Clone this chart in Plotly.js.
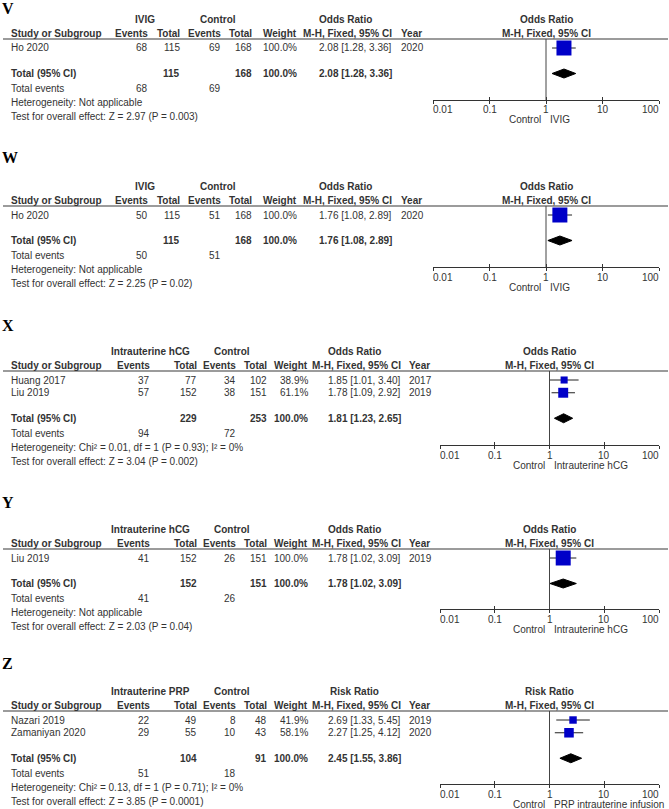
<!DOCTYPE html>
<html>
<head>
<meta charset="utf-8">
<script src="https://cdn.plot.ly/plotly-3.0.1.min.js"></script>
<style>html,body{margin:0;padding:0;background:#fff;}#chart{width:669px;height:809px;}</style>
</head>
<body>
<div id="chart"></div>
<script>
// ---------------- DATA ----------------
const panelLetters = ["V", "W", "X", "Y", "Z"];
const groupLabels = ["IVIG", "IVIG", "Intrauterine hCG", "Intrauterine hCG", "Intrauterine PRP"];
const measureLabels = ["Odds Ratio", "Odds Ratio", "Odds Ratio", "Odds Ratio", "Risk Ratio"];
const favoursLeft = ["Control", "Control", "Control", "Control", "Control"];
const favoursRight = ["IVIG", "IVIG", "Intrauterine hCG", "Intrauterine hCG", "PRP intrauterine infusion"];
const studyNames = [["Ho 2020"], ["Ho 2020"], ["Huang 2017", "Liu 2019"], ["Liu 2019"], ["Nazari 2019", "Zamaniyan 2020"]];
const expEvents = [[68], [50], [37, 57], [41], [22, 29]];
const expTotals = [[115], [115], [77, 152], [152], [49, 55]];
const ctlEvents = [[69], [51], [34, 38], [26], [8, 10]];
const ctlTotals = [[168], [168], [102, 151], [151], [48, 43]];
const weights = [[100.0], [100.0], [38.9, 61.1], [100.0], [41.9, 58.1]];
const estimates = [[2.08], [1.76], [1.85, 1.78], [1.78], [2.69, 2.27]];
const ciLower = [[1.28], [1.08], [1.01, 1.09], [1.02], [1.33, 1.25]];
const ciUpper = [[3.36], [2.89], [3.40, 2.92], [3.09], [5.45, 4.12]];
const studyYears = [[2020], [2020], [2017, 2019], [2019], [2019, 2020]];
const pooledEst = [2.08, 1.76, 1.81, 1.78, 2.45];
const pooledLo = [1.28, 1.08, 1.23, 1.02, 1.55];
const pooledHi = [3.36, 2.89, 2.65, 3.09, 3.86];
const totalExpN = [115, 115, 229, 152, 104];
const totalCtlN = [168, 168, 253, 151, 91];
const totalExpEvents = [68, 50, 94, 41, 51];
const totalCtlEvents = [69, 51, 72, 26, 18];
const heterogeneity = ["Not applicable", "Not applicable", "Chi\u00b2 = 0.01, df = 1 (P = 0.93); I\u00b2 = 0%", "Not applicable", "Chi\u00b2 = 0.13, df = 1 (P = 0.71); I\u00b2 = 0%"];
const overallZ = ["2.97", "2.25", "3.04", "2.03", "3.85"];
const overallP = ["0.003", "0.02", "0.002", "0.04", "0.0001"];
const axisTickVals = [0.01, 0.1, 1, 10, 100];
const axisTickText = ["0.01", "0.1", "1", "10", "100"];
const nullValue = 1;

// ---------------- LAYOUT GEOMETRY (pixels) ----------------
const W = 669, H = 809;
const colsA = {study: 11, expEv: 148, expTot: 180, ctlEv: 221, ctlTot: 252, weight: 297, est: 392, year: 401, grpExp: 145, grpCtl: 218, measure: 345};
const colsB = {study: 11, expEv: 150, expTot: 197, ctlEv: 236, ctlTot: 267, weight: 308, est: 401, year: 409, grpExp: 150, grpCtl: 232, measure: 354};
const geom = [
  {letterY: 8, lineY: 39, axisY: 100, x0: 433, x1: 659, cols: colsA},
  {letterY: 157, lineY: 206, axisY: 267, x0: 433, x1: 659, cols: colsA},
  {letterY: 325, lineY: 371, axisY: 445, x0: 440, x1: 659, cols: colsB},
  {letterY: 502, lineY: 549, axisY: 609, x0: 440, x1: 659, cols: colsB},
  {letterY: 663, lineY: 711, axisY: 784, x0: 440, x1: 659, cols: colsB}
];
const ROW0 = 9, ROWSTEP = 12.75;
const FONT = "Liberation Sans, Arial, sans-serif";
const FS = 10;
const TXT = "#333333";

const px = x => x / W;
const py = y => 1 - y / H;

const annotations = [];
const shapes = [];
const traces = [];
const layout = {
  width: W, height: H,
  margin: {l: 0, r: 0, t: 0, b: 0},
  paper_bgcolor: "#ffffff",
  plot_bgcolor: "rgba(0,0,0,0)",
  showlegend: false,
  hovermode: false,
  font: {family: FONT, size: FS, color: TXT}
};

function txt(x, y, text, anchor, opts) {
  opts = opts || {};
  annotations.push({
    xref: "paper", yref: "paper", x: px(x), y: py(y),
    text: opts.bold ? "<b>" + text + "</b>" : text,
    xanchor: anchor, yanchor: "middle", showarrow: false,
    borderpad: 0, borderwidth: 0,
    font: {family: opts.family || FONT, size: opts.size || FS, color: opts.color || TXT}
  });
}

const fmt2 = v => v.toFixed(2);
const ciText = (e, l, h) => fmt2(e) + " [" + fmt2(l) + ", " + fmt2(h) + "]";

for (let p = 0; p < panelLetters.length; p++) {
  const g = geom[p], c = g.cols;
  const s = p === 0 ? "" : String(p + 1);
  const n = studyNames[p].length;
  const rowPix = r => g.lineY + ROW0 + r * ROWSTEP;
  const nullX = (g.x0 + g.x1) / 2;
  const h1 = g.lineY - 19.5, h2 = g.lineY - 6;

  // panel letter
  txt(2, g.letterY, panelLetters[p], "left", {bold: true, size: 16, family: "Liberation Serif, Times New Roman, serif", color: "#000"});

  // headers
  txt(c.grpExp, h1, groupLabels[p], "center", {bold: true});
  txt(c.grpCtl, h1, "Control", "center", {bold: true});
  txt(c.measure, h1, measureLabels[p], "center", {bold: true});
  txt(nullX, h1, measureLabels[p], "center", {bold: true});
  txt(c.study, h2, "Study or Subgroup", "left", {bold: true});
  txt(c.expEv, h2, "Events", "right", {bold: true});
  txt(c.expTot, h2, "Total", "right", {bold: true});
  txt(c.ctlEv, h2, "Events", "right", {bold: true});
  txt(c.ctlTot, h2, "Total", "right", {bold: true});
  txt(c.weight, h2, "Weight", "right", {bold: true});
  txt(c.est, h2, "M-H, Fixed, 95% CI", "right", {bold: true});
  txt(c.year, h2, "Year", "left", {bold: true});
  txt(nullX, h2, "M-H, Fixed, 95% CI", "center", {bold: true});

  shapes.push({type: "line", xref: "paper", yref: "paper", x0: px(3), x1: px(668), y0: py(g.lineY), y1: py(g.lineY), line: {color: "#7a7a7a", width: 1.3}});

  // study rows
  for (let i = 0; i < n; i++) {
    const y = rowPix(i);
    txt(c.study, y, studyNames[p][i], "left");
    txt(c.expEv, y, String(expEvents[p][i]), "right");
    txt(c.expTot, y, String(expTotals[p][i]), "right");
    txt(c.ctlEv, y, String(ctlEvents[p][i]), "right");
    txt(c.ctlTot, y, String(ctlTotals[p][i]), "right");
    txt(c.weight, y, weights[p][i].toFixed(1) + "%", "right");
    txt(c.est, y, ciText(estimates[p][i], ciLower[p][i], ciUpper[p][i]), "right");
    txt(c.year, y, String(studyYears[p][i]), "left");
  }
  // total row
  const totRow = n + 1;
  const ty = rowPix(totRow);
  txt(c.study, ty, "Total (95% CI)", "left", {bold: true});
  txt(c.expTot, ty, String(totalExpN[p]), "right", {bold: true});
  txt(c.ctlTot, ty, String(totalCtlN[p]), "right", {bold: true});
  txt(c.weight, ty, "100.0%", "right", {bold: true});
  txt(c.est, ty, ciText(pooledEst[p], pooledLo[p], pooledHi[p]), "right", {bold: true});
  txt(c.study, ty + 15, "Total events", "left");
  txt(c.expEv, ty + 15, String(totalExpEvents[p]), "right");
  txt(c.ctlEv, ty + 15, String(totalCtlEvents[p]), "right");
  txt(c.study, ty + 29, "Heterogeneity: " + heterogeneity[p], "left");
  txt(c.study, ty + 43, "Test for overall effect: Z = " + overallZ[p] + " (P = " + overallP[p] + ")", "left");

  // favours labels
  txt(nullX - 5, g.axisY + 20, favoursLeft[p], "right");
  txt(nullX + 4, g.axisY + 20, favoursRight[p], "left");

  // axes
  const rTop = -ROW0 / ROWSTEP;
  const rBot = (g.axisY - g.lineY - ROW0) / ROWSTEP;
  layout["xaxis" + s] = {
    domain: [px(g.x0), px(g.x1)], anchor: "y" + s, type: "log", range: [-2, 2],
    tickvals: axisTickVals, ticks: "outside", ticklen: 3, tickwidth: 1, tickcolor: "#333",
    showticklabels: false,
    showline: true, linecolor: "#333", linewidth: 1, showgrid: false, zeroline: false, fixedrange: true
  };
  layout["xaxis" + (p + 6)] = {
    overlaying: "x" + s, anchor: "y" + s, side: "bottom", type: "log", range: [-2, 2],
    tickvals: axisTickVals, ticks: "inside", ticklen: 3, tickwidth: 1, tickcolor: "#333",
    showticklabels: false, showline: false, showgrid: false, zeroline: false, fixedrange: true
  };
  layout["yaxis" + s] = {
    domain: [py(g.axisY), py(g.lineY)], anchor: "x" + s, range: [rBot, rTop],
    visible: false, showgrid: false, zeroline: false, fixedrange: true
  };

  // tick labels placed through the axis scale (first left-aligned, last right-aligned, as in RevMan)
  axisTickVals.forEach((v, k) => {
    const anchor = k === 0 ? "left" : (k === axisTickVals.length - 1 ? "right" : "center");
    annotations.push({
      xref: "x" + s, yref: "paper", x: Math.log10(v), y: py(g.axisY + 10),
      text: axisTickText[k], xanchor: anchor, yanchor: "middle", showarrow: false,
      borderpad: 0, borderwidth: 0, font: {family: FONT, size: FS, color: TXT}
    });
  });

  // null line
  shapes.push({type: "line", xref: "x" + s, yref: "y" + s + " domain", x0: nullValue, x1: nullValue, y0: 0, y1: 1, line: {color: "#444", width: 1}});

  // CI lines
  const cx = [], cy = [];
  for (let i = 0; i < n; i++) { cx.push(ciLower[p][i], ciUpper[p][i], null); cy.push(i, i, null); }
  traces.push({type: "scatter", mode: "lines", x: cx, y: cy, xaxis: "x" + s, yaxis: "y" + s, line: {color: "#222", width: 1}, hoverinfo: "skip"});
  // squares
  traces.push({
    type: "scatter", mode: "markers", x: estimates[p], y: studyNames[p].map((_, i) => i),
    xaxis: "x" + s, yaxis: "y" + s, hoverinfo: "skip", opacity: 1,
    marker: {symbol: "square", color: "#0000c8", opacity: 1, size: weights[p].map(w => 2 + 13 * w / 100), line: {width: 0}}
  });
  // diamond
  const hh = 4.5 / ROWSTEP;
  traces.push({
    type: "scatter", mode: "lines", fill: "toself", fillcolor: "#000",
    x: [pooledLo[p], pooledEst[p], pooledHi[p], pooledEst[p], pooledLo[p]],
    y: [totRow, totRow - hh, totRow, totRow + hh, totRow],
    xaxis: "x" + s, yaxis: "y" + s, line: {color: "#000", width: 1}, hoverinfo: "skip"
  });
  // invisible trace on overlay axis so it is drawn
  traces.push({type: "scatter", mode: "markers", x: [nullValue], y: [null], xaxis: "x" + (p + 6), yaxis: "y" + s, marker: {opacity: 0}, hoverinfo: "skip"});
}

layout.annotations = annotations;
layout.shapes = shapes;
Plotly.newPlot("chart", traces, layout, {staticPlot: true, displayModeBar: false});
</script>
</body>
</html>
